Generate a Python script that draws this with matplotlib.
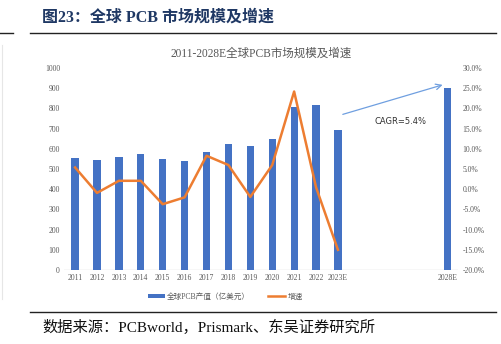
import matplotlib
matplotlib.use("Agg")
import matplotlib.pyplot as plt
from matplotlib.lines import Line2D
import numpy as np

plt.rcParams['font.family'] = ['Liberation Serif', 'Noto Sans CJK SC', 'DejaVu Sans']

# datos
anios = ['2011', '2012', '2013', '2014', '2015', '2016', '2017', '2018', '2019',
         '2020', '2021', '2022', '2023E', '', '', '', '', '2028E']
produccion = [554, 546, 562, 573, 552, 541, 587, 622, 612, 651, 809, 818, 695,
              None, None, None, None, 903]
crecimiento = [5.4, -0.9, 2.1, 2.1, -3.7, -2.0, 8.3, 6.0, -1.9, 6.0, 24.2, 0.5, -15.0]
texto_cagr = 'CAGR=5.4%'

azul = '#4472c4'
naranja = '#ed7d31'
gris = '#595959'

fig = plt.figure(figsize=(5.01, 3.44), dpi=100)
ax = fig.add_axes([0.128, 0.215, 0.787, 0.587])
ax2 = ax.twinx()

x = np.arange(len(anios))
idx_barras = [i for i, v in enumerate(produccion) if v is not None]
vals_barras = [produccion[i] for i in idx_barras]
ax.bar(idx_barras, vals_barras, width=0.33, color=azul, zorder=2,
       label='全球PCB产值（亿美元）')
ax2.plot(x[:len(crecimiento)], crecimiento, color=naranja, lw=1.8,
         label='增速', zorder=3)

ax.set_xlim(-0.5, len(anios) - 0.5)
ax.set_ylim(0, 1000)
ax.set_yticks(range(0, 1001, 100))
ax2.set_ylim(-20, 30)
ax2.set_yticks(range(-20, 31, 5))
ax2.set_yticklabels(['{:.1f}%'.format(v) for v in range(-20, 31, 5)])
ax.set_xticks(x)
ax.set_xticklabels(anios)

for a in (ax, ax2):
    for s in a.spines.values():
        s.set_visible(False)
    a.tick_params(length=0, labelsize=5.5, labelcolor=gris, pad=3)
ax.axhline(0, color='#d9d9d9', lw=1, zorder=1)
ax2.set_zorder(ax.get_zorder() + 1)
ax2.patch.set_visible(False)

# flecha CAGR
ax.annotate('', xy=(16.9, 921), xytext=(12.1, 767),
            arrowprops=dict(arrowstyle='->', color='#6f9fe0', lw=0.9))
ax.text(13.65, 734, texto_cagr, fontsize=6, color='#333333',
        family=['DejaVu Sans'], va='center')

ax.set_title('2011-2028E全球PCB市场规模及增速', fontsize=8.3, color=gris, pad=8)

h1, l1 = ax.get_legend_handles_labels()
h2, l2 = ax2.get_legend_handles_labels()
fig.legend(h1 + h2, l1 + l2, loc='center', bbox_to_anchor=(0.45, 0.137), ncol=2,
           frameon=False, fontsize=5.5, labelcolor=gris, handlelength=2.2,
           handleheight=0.5, columnspacing=2.4, handletextpad=0.3)

# encabezado y pie
fig.text(0.084, 0.948, '图23：全球 PCB 市场规模及增速', fontsize=11.5, fontweight='bold',
         color='#1f3864', va='center')
fig.add_artist(Line2D([0.06, 0.99], [0.904, 0.904], color='#222222', lw=1.0))
fig.add_artist(Line2D([0.0, 0.025], [0.904, 0.904], color='#222222', lw=1.0))
fig.add_artist(Line2D([0.004, 0.004], [0.13, 0.87], color='#e6e6e6', lw=0.8))
fig.add_artist(Line2D([0.06, 0.99], [0.093, 0.093], color='#222222', lw=1.0))
fig.text(0.084, 0.047, '数据来源：PCBworld，Prismark、东吴证券研究所', fontsize=11,
         color='#111111', va='center')

fig.savefig('out.png', dpi=100)
